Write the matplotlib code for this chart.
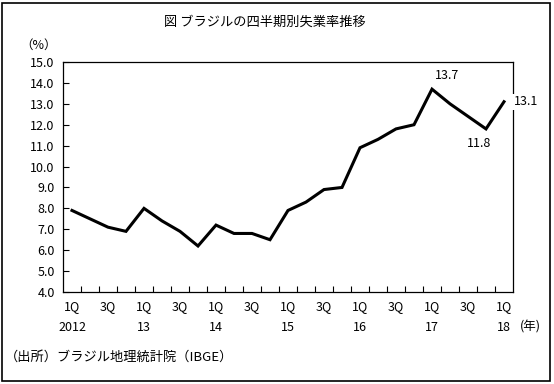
import numpy as np
import matplotlib.pyplot as plt
from matplotlib.patches import Rectangle

plt.rcParams['font.family'] = ['Noto Sans CJK JP', 'DejaVu Sans']

# 四半期別失業率（%） 2012 1Q - 2018 1Q
rate = [7.9, 7.5, 7.1, 6.9,
        8.0, 7.4, 6.9, 6.2,
        7.2, 6.8, 6.8, 6.5,
        7.9, 8.3, 8.9, 9.0,
        10.9, 11.3, 11.8, 12.0,
        13.7, 13.0, 12.4, 11.8,
        13.1]
q_labels = ["1Q", "", "3Q", ""] * 6 + ["1Q"]
year_labels = ["2012", "13", "14", "15", "16", "17", "18"]

x = np.arange(len(rate))

fig = plt.figure(figsize=(5.54, 3.84), dpi=100)
ax = fig.add_axes([63/554, 92/384, 450/554, 230/384])

ax.plot(x, rate, color="black", lw=2.2, solid_joinstyle="miter")

ax.set_xlim(-0.5, len(rate) - 0.5)
ax.set_ylim(4.0, 15.0)
ax.set_yticks(np.arange(4.0, 15.01, 1.0))
ax.set_yticklabels(["%.1f" % v for v in np.arange(4.0, 15.01, 1.0)], fontsize=9)
ax.tick_params(axis="y", direction="in", length=4, width=0.8, pad=6)

# x: 目盛りは区切り位置、ラベルは各四半期
ax.set_xticks(x[:-1] + 0.5, minor=True)
ax.set_xticks(x)
ax.set_xticklabels(q_labels, fontsize=9)
ax.tick_params(axis="x", which="major", length=0, pad=6)
ax.tick_params(axis="x", which="minor", direction="in", length=4, width=0.8)

for s in ax.spines.values():
    s.set_linewidth(0.9)

# 年ラベル
for i, y in enumerate(year_labels):
    ax.text(i * 4, -0.125, y, transform=ax.get_xaxis_transform(),
            ha="center", va="top", fontsize=9)
fig.text(520/554, 1 - 327/384, "(年)", ha="left", va="center", fontsize=9)

# データラベル
ax.annotate("13.7", (20, 13.7), xytext=(11, 5), textcoords="offset points",
            ha="center", va="bottom", fontsize=9)
ax.annotate("11.8", (23, 11.8), xytext=(-5, -6), textcoords="offset points",
            ha="center", va="top", fontsize=9)
ax.annotate("13.1", (24, 13.1), xytext=(7, 0), textcoords="offset points",
            ha="left", va="center", fontsize=9,
            bbox=dict(facecolor="white", edgecolor="none", pad=1))

fig.text(265/554, 1 - 22/384, "図 ブラジルの四半期別失業率推移", ha="center", va="center", fontsize=9.5)
fig.text(20/554, 1 - 45/384, "（%）", ha="left", va="center", fontsize=9)
fig.text(5/554, 1 - 357/384, "（出所）ブラジル地理統計院（IBGE）", ha="left", va="center", fontsize=9.5)

# 外枠
fig.patches.append(Rectangle((2/554, 3/384), 548/554, 378/384, transform=fig.transFigure,
                             fill=False, edgecolor="black", lw=1.2))

fig.savefig("out.png", dpi=100)
